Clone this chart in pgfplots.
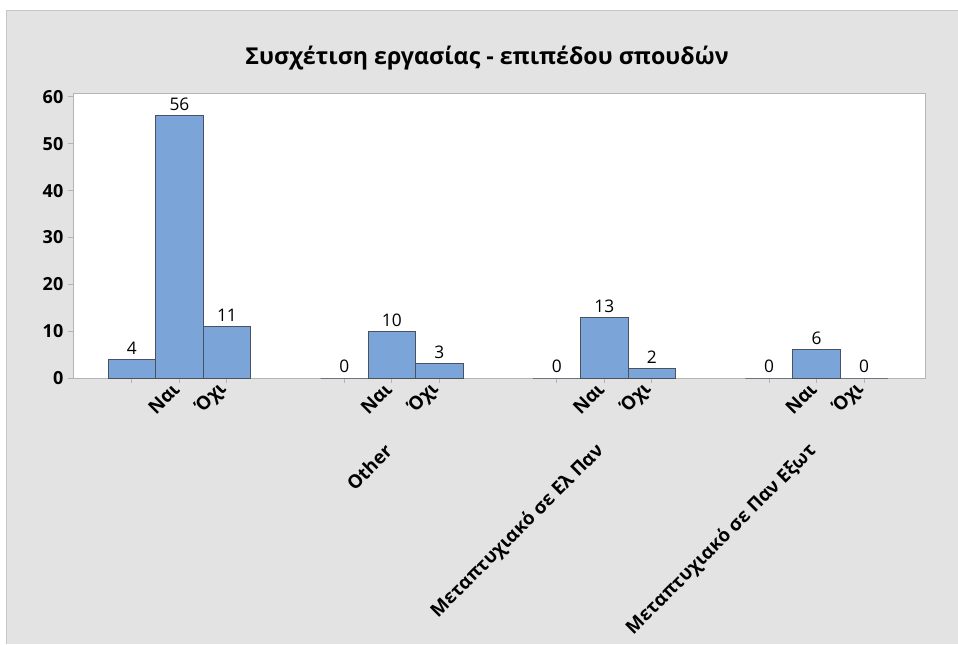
\documentclass[border=0pt]{standalone}
\usepackage{fontspec}
\setmainfont{Open Sans}
\usepackage{pgfplots}
\pgfplotsset{compat=1.18}
\definecolor{panel}{HTML}{E3E3E3}
\definecolor{panelline}{HTML}{C8C8C8}
\definecolor{barblue}{HTML}{7BA5D8}
\definecolor{baredge}{HTML}{4A5260}
\definecolor{frame}{HTML}{B4B4B4}

% counts per group: blank, Nai, Ochi
\pgfplotstableread{
x     y
0     4
1     56
2     11
4.47  0
5.47  10
6.47  3
8.94  0
9.94  13
10.94 2
13.41 0
14.41 6
15.41 0
}\counts

\begin{document}
\begin{tikzpicture}
% 1px = 0.75pt, page 958x644 px
\path[use as bounding box] (0,0) rectangle (718.5pt,-483pt);
\fill[panel] (4.5pt,-7.5pt) rectangle (718.5pt,-483pt);
\draw[panelline, line width=0.75pt] (4.5pt,-483pt) -- (4.5pt,-7.5pt) -- (718.5pt,-7.5pt);
\node[font=\bfseries\fontsize{17.4}{20}\selectfont, anchor=base] at (365.25pt,-48.5pt)
  {Συσχέτιση εργασίας - επιπέδου σπουδών};

\begin{axis}[
    at={(54.75pt,-69.75pt)}, anchor=north west,
    scale only axis,
    width=639pt, height=213.75pt,
    xmin=-1.24, xmax=16.69,
    ymin=0, ymax=60.85,
    axis background/.style={fill=white},
    axis line style={frame, line width=0.75pt},
    tick style={frame, line width=0.75pt},
    major tick length=3.75pt,
    tick align=outside,
    xtick pos=bottom, ytick pos=left,
    ytick={0,10,...,60},
    /pgf/number format/assume math mode=true,
    yticklabel style={font=\bfseries\fontsize{13.5}{15}\selectfont},
    xtick={0,1,2,4.47,5.47,6.47,8.94,9.94,10.94,13.41,14.41,15.41},
    xticklabels={,Ναι,Όχι,,Ναι,Όχι,,Ναι,Όχι,,Ναι,Όχι},
    xticklabel style={rotate=45, anchor=east, font=\bfseries\fontsize{14}{16}\selectfont},
    ybar, bar width=1, bar shift=0pt,
    nodes near coords,
    nodes near coords style={font=\fontsize{13}{15}\selectfont, black},
]
\addplot[fill=barblue, draw=baredge, line width=0.75pt] table[x=x, y=y] {\counts};

\coordinate (g2) at (axis cs:5.47,0);
\coordinate (g3) at (axis cs:9.94,0);
\coordinate (g4) at (axis cs:14.41,0);
\end{axis}

\begin{scope}[every node/.style={rotate=45, anchor=east, font=\bfseries\fontsize{14}{16}\selectfont}]
\node at ([yshift=-50pt]g2) {Other};
\node at ([yshift=-50pt]g3) {Μεταπτυχιακό σε Ελ Παν};
\node at ([yshift=-50pt]g4) {Μεταπτυχιακό σε Παν Εξωτ};
\end{scope}
\end{tikzpicture}
\end{document}
